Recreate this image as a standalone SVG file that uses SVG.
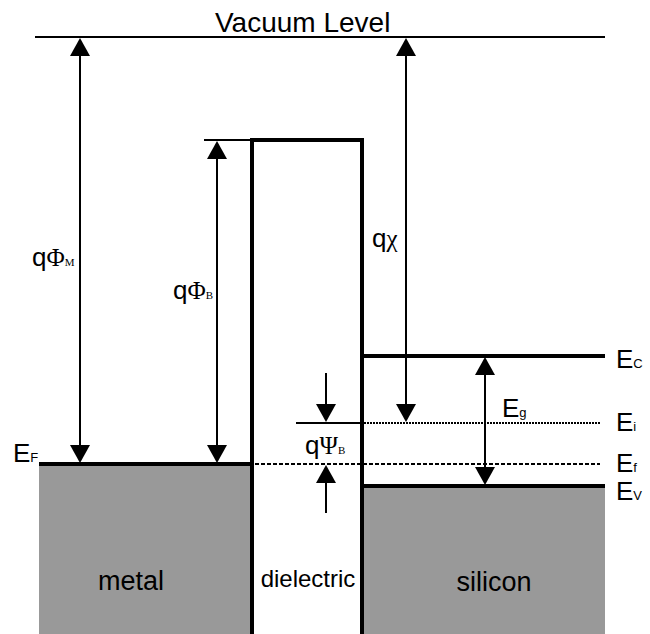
<svg xmlns="http://www.w3.org/2000/svg" width="650" height="634" viewBox="0 0 650 634">
<style>
.thin{stroke:#000;stroke-width:2;fill:none}
.thick{stroke:#000;stroke-width:4;fill:none}
.fillg{fill:#999999;stroke:none}
.arr{stroke:#000;stroke-width:2;fill:none;marker-end:url(#ah)}
.darr{stroke:#000;stroke-width:2;fill:none;marker-start:url(#ah);marker-end:url(#ah)}
text{font-family:"Liberation Sans",Arial,sans-serif;fill:#000}
.lbl{font-size:26px}
.sub{font-size:13px}
.gr{font-family:"Liberation Serif","Times New Roman",serif;font-size:25px}
.gsub{font-family:"Liberation Serif","Times New Roman",serif;font-size:11px}
</style>
<defs>
<marker id="ah" viewBox="0 0 18 20" refX="1" refY="10" markerWidth="18" markerHeight="20" markerUnits="userSpaceOnUse" orient="auto-start-reverse">
<path d="M0,0 L18,10 L0,20 z" fill="#000"/>
</marker>
</defs>

<g id="vacuum">
<line class="thin" x1="35" y1="37" x2="605" y2="37"/>
<text x="215" y="32" font-size="28">Vacuum Level</text>
</g>

<g id="metal">
<rect class="fillg" x="39" y="464" width="213" height="170"/>
<line class="thick" x1="39" y1="464" x2="252" y2="464"/>
<text x="131" y="590" text-anchor="middle" font-size="27">metal</text>
</g>

<g id="silicon">
<rect class="fillg" x="362" y="486" width="243" height="148"/>
<line class="thick" x1="362" y1="356" x2="605" y2="356"/>
<line class="thick" x1="362" y1="486" x2="605" y2="486"/>
<text x="494" y="591" text-anchor="middle" font-size="27">silicon</text>
</g>

<g id="dielectric">
<polyline class="thick" points="252,634 252,140 362,140 362,634"/>
<text x="308" y="587" text-anchor="middle" font-size="24">dielectric</text>
</g>

<g id="levels">
<line class="thin" x1="204" y1="140" x2="252" y2="140"/>
<line class="thin" x1="296" y1="423" x2="362" y2="423"/>
<line stroke="#000" stroke-width="2" stroke-dasharray="2 1" x1="364" y1="423" x2="600" y2="423"/>
<line stroke="#000" stroke-width="2" stroke-dasharray="4 2" x1="255" y1="464" x2="600" y2="464"/>
</g>

<g id="connectors">
<line class="darr" x1="80" y1="55" x2="80" y2="446"/>
<line class="darr" x1="217" y1="158" x2="217" y2="446"/>
<line class="darr" x1="406" y1="55" x2="406" y2="405"/>
<line class="darr" x1="485" y1="374" x2="485" y2="468"/>
<line class="arr" x1="326" y1="373" x2="326" y2="405"/>
<line class="arr" x1="326" y1="513" x2="326" y2="482"/>
</g>

<g id="labels">
<text x="32" y="266"><tspan class="lbl">q</tspan><tspan class="gr">Φ</tspan><tspan class="gsub">M</tspan></text>
<text x="173" y="299"><tspan class="lbl">q</tspan><tspan class="gr">Φ</tspan><tspan class="gsub">B</tspan></text>
<text x="372" y="247"><tspan class="lbl">q</tspan><tspan class="gr">χ</tspan></text>
<text x="305" y="454"><tspan class="lbl">q</tspan><tspan class="gr">Ψ</tspan><tspan class="gsub">B</tspan></text>
<text x="13" y="462"><tspan class="lbl">E</tspan><tspan class="sub">F</tspan></text>
<text x="616" y="368"><tspan class="lbl">E</tspan><tspan class="sub">C</tspan></text>
<text x="616" y="431"><tspan class="lbl">E</tspan><tspan class="sub">i</tspan></text>
<text x="616" y="472"><tspan class="lbl">E</tspan><tspan class="sub">f</tspan></text>
<text x="616" y="500"><tspan class="lbl">E</tspan><tspan class="sub">V</tspan></text>
<text x="502" y="417"><tspan class="lbl">E</tspan><tspan class="sub">g</tspan></text>
</g>
</svg>
